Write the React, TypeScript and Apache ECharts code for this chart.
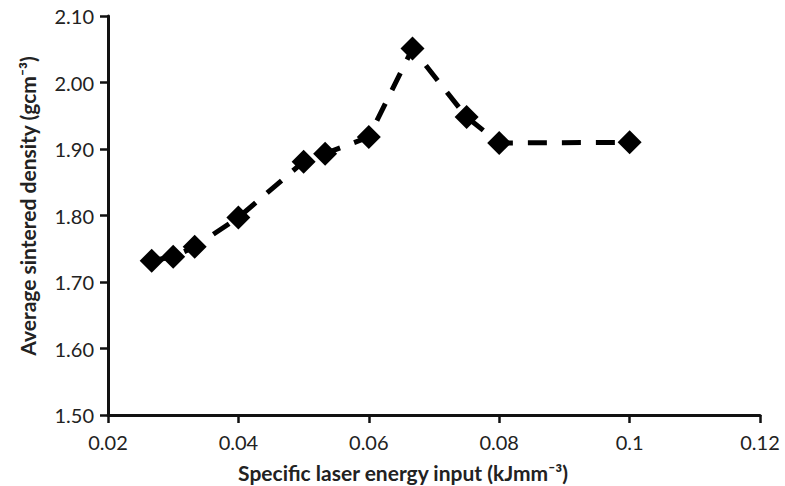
import React, { useEffect, useRef } from "react";
import * as echarts from "echarts";

const energyInput = [0.0267, 0.03, 0.0333, 0.04, 0.05, 0.0533, 0.06, 0.0667, 0.075, 0.08, 0.1];
const density = [1.732, 1.738, 1.753, 1.797, 1.881, 1.893, 1.918, 2.051, 1.948, 1.909, 1.91];
const xTitle = "Specific laser energy input (kJmm⁻³)";
const yTitle = "Average sintered density (gcm⁻³)";

export default function App() {
  const ref = useRef<HTMLDivElement>(null);
  useEffect(() => {
    if (!ref.current) return;
    const chart = echarts.init(ref.current, null, { renderer: "svg" });
    const font = "Lato, 'Open Sans', sans-serif";
    chart.setOption({
      animation: false,
      backgroundColor: "#ffffff",
      grid: { left: 108, right: 25, top: 16, bottom: 71, containLabel: false },
      xAxis: {
        type: "value",
        min: 0.02,
        max: 0.12,
        interval: 0.02,
        axisLine: { show: true, lineStyle: { color: "#111", width: 3 } },
        axisTick: { show: true, length: 8, lineStyle: { color: "#111", width: 2.5 } },
        splitLine: { show: false },
        axisLabel: {
          color: "#222",
          fontSize: 20,
          fontFamily: font,
          margin: 17,
          formatter: (v: number) => String(+v.toFixed(2)),
        },
      },
      yAxis: {
        type: "value",
        min: 1.5,
        max: 2.1,
        interval: 0.1,
        axisLine: { show: true, lineStyle: { color: "#111", width: 3 } },
        axisTick: { show: true, length: 8, lineStyle: { color: "#111", width: 2.5 } },
        splitLine: { show: false },
        axisLabel: {
          color: "#222",
          fontSize: 20,
          fontFamily: font,
          margin: 14,
          formatter: (v: number) => v.toFixed(2),
        },
      },
      graphic: [
        {
          type: "text",
          x: 403,
          y: 472,
          style: {
            text: xTitle,
            fill: "#222",
            font: `bold 21px ${font}`,
            textAlign: "center",
            textVerticalAlign: "middle",
          },
        },
        {
          type: "text",
          x: 27,
          y: 206,
          rotation: Math.PI / 2,
          style: {
            text: yTitle,
            fill: "#222",
            font: `bold 21px ${font}`,
            textAlign: "center",
            textVerticalAlign: "middle",
          },
        },
      ],
      series: [
        {
          type: "line",
          data: energyInput.map((x, i) => [x, density[i]]),
          symbol: "diamond",
          symbolSize: 24,
          itemStyle: { color: "#000" },
          lineStyle: { color: "#000", width: 5, type: [19, 15] },
        },
      ],
    });
    return () => chart.dispose();
  }, []);
  return <div ref={ref} style={{ width: 785, height: 486, position: "absolute", left: 0, top: 0 }} />;
}
